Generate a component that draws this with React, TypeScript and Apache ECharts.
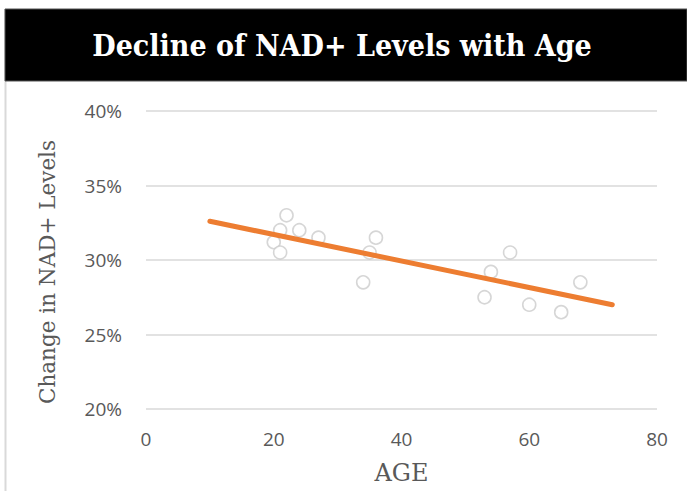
import React, { useEffect, useRef } from "react";
import * as echarts from "echarts";

const titleText = "Decline of NAD+ Levels with Age";
const xAxisName = "AGE";
const yAxisName = "Change in NAD+ Levels";

const ages = [20, 21, 21, 22, 24, 27, 34, 35, 36, 53, 54, 57, 60, 65, 68];
const levels = [31.2, 30.5, 32, 33, 32, 31.5, 28.5, 30.5, 31.5, 27.5, 29.2, 30.5, 27, 26.5, 28.5];

const trendAges = [10, 73];
const trendLevels = [32.6, 27.0];

export default function App() {
  const ref = useRef<HTMLDivElement>(null);
  useEffect(() => {
    if (!ref.current) return;
    const chart = echarts.init(ref.current, null, { renderer: "svg" });
    const scatterData = ages.map((a, i) => [a, levels[i]]);
    const trendData = trendAges.map((a, i) => [a, trendLevels[i]]);
    chart.setOption({
      animation: false,
      backgroundColor: "#ffffff",
      graphic: [
        {
          type: "line",
          shape: { x1: 5.5, y1: 9, x2: 5.5, y2: 491 },
          style: { stroke: "#d9d9d9", lineWidth: 2 },
          silent: true,
        },
        {
          type: "rect",
          shape: { x: 5, y: 9, width: 682, height: 72 },
          style: { fill: "#000000", stroke: "#555555", lineWidth: 1 },
          silent: true,
        },
        {
          type: "text",
          x: 342,
          y: 45,
          style: {
            text: titleText,
            fill: "#ffffff",
            font: 'bold 30px "DejaVu Serif Condensed", "DejaVu Serif", serif',
            align: "center",
            verticalAlign: "middle",
          },
          silent: true,
        },
      ],
      grid: { left: 146, right: 30, top: 111, bottom: 82 },
      xAxis: {
        type: "value",
        min: 0,
        max: 80,
        interval: 20,
        name: xAxisName,
        nameLocation: "middle",
        nameGap: 52,
        nameTextStyle: {
          fontFamily: '"DejaVu Serif", serif',
          fontSize: 24,
          color: "#595959",
        },
        axisLine: { show: false },
        axisTick: { show: false },
        splitLine: { show: false },
        axisLabel: {
          margin: 20,
          fontFamily: '"Open Sans", sans-serif',
          fontSize: 19,
          color: "#595959",
        },
      },
      yAxis: {
        type: "value",
        min: 20,
        max: 40,
        interval: 5,
        name: yAxisName,
        nameLocation: "middle",
        nameRotate: 90,
        nameGap: 88,
        nameTextStyle: {
          fontFamily: '"DejaVu Serif", serif',
          fontSize: 21.5,
          color: "#595959",
          padding: [0, 24, 0, 0],
        },
        axisLine: { show: false },
        axisTick: { show: false },
        splitLine: { lineStyle: { color: "#d9d9d9", width: 1.5 } },
        axisLabel: {
          margin: 24,
          formatter: (v: number) => `${v}%`,
          fontFamily: '"Open Sans", sans-serif',
          fontSize: 19,
          color: "#595959",
        },
      },
      series: [
        {
          type: "scatter",
          data: scatterData,
          symbol: "circle",
          symbolSize: 13,
          itemStyle: { color: "#ffffff", borderColor: "#cccccc", borderWidth: 1.6 },
          z: 2,
        },
        {
          type: "line",
          data: trendData,
          showSymbol: false,
          symbol: "none",
          lineStyle: { color: "#ed7d31", width: 5, cap: "round" },
          z: 3,
        },
      ],
    });
    return () => chart.dispose();
  }, []);
  return (
    <div
      ref={ref}
      style={{ position: "absolute", left: 0, top: 0, width: 687, height: 491 }}
    />
  );
}
